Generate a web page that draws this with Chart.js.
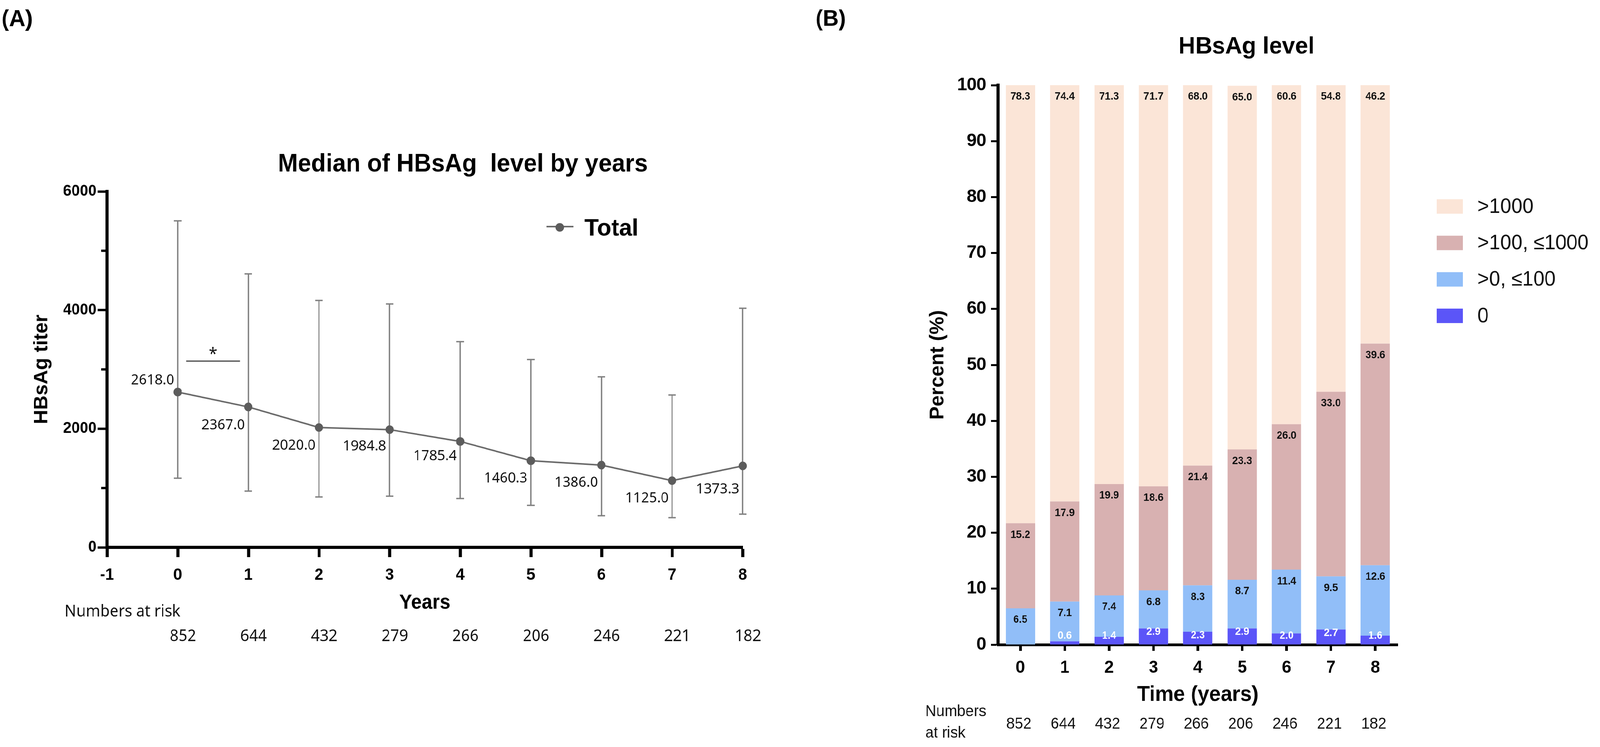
<!doctype html>
<html lang="en">
<head>
<meta charset="utf-8">
<title>HBsAg level</title>
<script src="https://cdn.jsdelivr.net/npm/chart.js@4.4.0/dist/chart.umd.min.js"></script>
<style>
  html, body { margin: 0; background: #fff; overflow: hidden; }
  #wrap { position: relative; width: 4259px; height: 1912px; transform-origin: 0 0; }
  #boxA { position: absolute; left: 0; top: 0; width: 2130px; height: 1912px; }
  #boxB { position: absolute; left: 2130px; top: 0; width: 2129px; height: 1912px; }
</style>
</head>
<body>
<div id="wrap">
  <div id="boxA"><canvas id="chartA"></canvas></div>
  <div id="boxB"><canvas id="chartB"></canvas></div>
</div>
<script>
// ---- panel A data: median HBsAg titer by year ----
var years = [0, 1, 2, 3, 4, 5, 6, 7, 8];
var medianTiter = [2618.0, 2367.0, 2020.0, 1984.8, 1785.4, 1460.3, 1386.0, 1125.0, 1373.3];
var titerLow = [1166, 948, 850, 863, 823, 708, 533, 500, 560];
var titerHigh = [5505, 4610, 4162, 4103, 3467, 3167, 2875, 2568, 4030];
var riskA = [852, 644, 432, 279, 266, 206, 246, 221, 182];

// ---- panel B data: percent of patients per HBsAg level ----
var timeLabels = ['0', '1', '2', '3', '4', '5', '6', '7', '8'];
var pctZero = [0, 0.6, 1.4, 2.9, 2.3, 2.9, 2.0, 2.7, 1.6];
var pctLow = [6.5, 7.1, 7.4, 6.8, 8.3, 8.7, 11.4, 9.5, 12.6];
var pctMid = [15.2, 17.9, 19.9, 18.6, 21.4, 23.3, 26.0, 33.0, 39.6];
var pctHigh = [78.3, 74.4, 71.3, 71.7, 68.0, 65.0, 60.6, 54.8, 46.2];
var riskB = [852, 644, 432, 279, 266, 206, 246, 221, 182];

var ARIAL = "'Liberation Sans', Arial, sans-serif";
var KFONT = "'Noto Sans', 'Liberation Sans', sans-serif";

// the figure is laid out for 4259x1912; squeeze it if the window is smaller
(function() {
  var sx = Math.min(1, (window.innerWidth || 4259) / 4259);
  var sy = Math.min(1, (window.innerHeight || 1912) / 1912);
  if (sx < 1 || sy < 1) {
    document.getElementById('wrap').style.transform = 'scale(' + sx + ',' + sy + ')';
  }
})();

Chart.defaults.font.family = ARIAL;
Chart.defaults.color = '#000';

function txt(ctx, s, x, y, font, color, align, base) {
  ctx.save();
  ctx.font = font;
  ctx.fillStyle = color || '#000';
  ctx.textAlign = align || 'center';
  ctx.textBaseline = base || 'middle';
  ctx.fillText(s, x, y);
  ctx.restore();
}

function plain(v) { return String(v); }

// label nudges (px) for the median labels, first one sits above the point
var labelShiftA = [-30, 47, 46, 43, 38, 45, 45, 45, 60];

const extrasA = {
  id: 'extrasA',
  beforeDatasetsDraw(chart) {
    const {ctx, scales: {x, y}} = chart;
    ctx.save();
    ctx.strokeStyle = '#808080';
    ctx.lineWidth = 3.5;
    years.forEach(function(yr, i) {
      const px = x.getPixelForValue(yr);
      const lo = y.getPixelForValue(titerLow[i]);
      const hi = y.getPixelForValue(titerHigh[i]);
      ctx.beginPath();
      ctx.moveTo(px, lo); ctx.lineTo(px, hi);
      ctx.moveTo(px - 10, lo); ctx.lineTo(px + 10, lo);
      ctx.moveTo(px - 10, hi); ctx.lineTo(px + 10, hi);
      ctx.stroke();
    });
    // significance bracket between year 0 and 1
    const by = y.getPixelForValue(3140);
    ctx.strokeStyle = '#444';
    ctx.lineWidth = 3;
    ctx.beginPath();
    ctx.moveTo(x.getPixelForValue(0.12), by);
    ctx.lineTo(x.getPixelForValue(0.88), by);
    ctx.stroke();
    ctx.restore();
    txt(ctx, '*', x.getPixelForValue(0.5), by - 4, '42px ' + KFONT, '#111', 'center', 'alphabetic');
  },
  afterDatasetsDraw(chart) {
    const {ctx, scales: {x, y}} = chart;
    years.forEach(function(yr, i) {
      const px = x.getPixelForValue(yr);
      const py = y.getPixelForValue(medianTiter[i]);
      txt(ctx, medianTiter[i].toFixed(1), px - 9, py + labelShiftA[i], '37px ' + KFONT, '#111', 'right');
    });
  },
  afterDraw(chart) {
    const {ctx, chartArea, scales: {x, y}} = chart;
    // minor y ticks
    ctx.save();
    ctx.strokeStyle = '#000';
    ctx.lineWidth = 6;
    [1000, 3000, 5000].forEach(function(v) {
      const py = y.getPixelForValue(v);
      ctx.beginPath();
      ctx.moveTo(chartArea.left - 16, py);
      ctx.lineTo(chartArea.left, py);
      ctx.stroke();
    });
    ctx.restore();
    txt(ctx, '(A)', 4, 50, 'bold 60px ' + ARIAL, '#000', 'left');
    txt(ctx, 'Median of HBsAg  level by years', 1232, 421, 'bold 64px ' + ARIAL);
    // legend
    const ds = chart.data.datasets[0];
    ctx.save();
    ctx.strokeStyle = ds.borderColor;
    ctx.lineWidth = 4;
    ctx.beginPath(); ctx.moveTo(1455, 580); ctx.lineTo(1526, 580); ctx.stroke();
    ctx.fillStyle = ds.pointBackgroundColor;
    ctx.beginPath(); ctx.arc(1490, 582, 11, 0, Math.PI * 2); ctx.fill();
    ctx.restore();
    txt(ctx, ds.label, 1556, 586, 'bold 62px ' + ARIAL, '#000', 'left');
    // numbers at risk
    txt(ctx, 'Numbers at risk', 172, 1566, '41px ' + KFONT, '#111', 'left');
    years.forEach(function(yr, i) {
      txt(ctx, String(riskA[i]), x.getPixelForValue(yr) + 14, 1629, '41px ' + KFONT, '#111');
    });
  }
};

new Chart(document.getElementById('chartA'), {
  type: 'line',
  data: {
    datasets: [{
      label: 'Total',
      data: years.map(function(yr, i) { return {x: yr, y: medianTiter[i]}; }),
      borderColor: '#6b6b6b',
      borderWidth: 4,
      pointRadius: 11,
      pointBackgroundColor: '#5c5c5c',
      pointBorderWidth: 0,
      tension: 0,
      clip: false
    }]
  },
  options: {
    responsive: true,
    maintainAspectRatio: false,
    animation: false,
    layout: {padding: {left: 0, right: 153, top: 490, bottom: 0}},
    plugins: {legend: {display: false}, tooltip: {enabled: false}},
    scales: {
      x: {
        type: 'linear', min: -1, max: 8,
        ticks: {stepSize: 1, padding: 21, color: '#000', font: {size: 42, weight: 'bold'}, callback: plain},
        grid: {drawOnChartArea: false, tickLength: 25, tickWidth: 8, tickColor: '#000'},
        border: {width: 8, color: '#000'},
        title: {display: true, text: 'Years', color: '#000', font: {size: 51, weight: 'bold', lineHeight: 1}, padding: {top: 0, bottom: 343}},
        afterFit: function(s) { s.height = 511; }
      },
      y: {
        min: 0, max: 6000,
        ticks: {stepSize: 2000, padding: 3, color: '#000', font: {size: 40, weight: 'bold'}, callback: plain},
        grid: {drawOnChartArea: false, tickLength: 25, tickWidth: 6, tickColor: '#000'},
        border: {width: 8, color: '#000'},
        title: {display: true, text: 'HBsAg titer', color: '#000', font: {size: 51, weight: 'bold', lineHeight: 1}, padding: {top: 86, bottom: 0}},
        afterFit: function(s) { s.width = 285; }
      }
    }
  },
  plugins: [extrasA]
});

const extrasB = {
  id: 'extrasB',
  afterDatasetsDraw(chart) {
    const {ctx} = chart;
    chart.data.datasets.forEach(function(ds, di) {
      const meta = chart.getDatasetMeta(di);
      meta.data.forEach(function(bar, i) {
        const v = ds.data[i];
        if (!v) return;
        if (di === 0) {
          const cy = Math.min(bar.y + 9, bar.base - 22);
          txt(ctx, v.toFixed(1), bar.x, cy, 'bold 27px ' + ARIAL, '#fff');
        } else {
          txt(ctx, v.toFixed(1), bar.x, bar.y + 30, 'bold 27px ' + ARIAL, '#111');
        }
      });
    });
  },
  afterDraw(chart) {
    const {ctx, scales: {x}} = chart;
    txt(ctx, '(B)', 41, 50, 'bold 58px ' + ARIAL, '#000', 'left');
    txt(ctx, 'HBsAg level', 1188, 120, 'bold 62px ' + ARIAL);
    // legend, top row is the last dataset
    const dsets = chart.data.datasets.slice().reverse();
    dsets.forEach(function(ds, k) {
      const cy = 528 + k * 93.3;
      ctx.save();
      ctx.fillStyle = ds.backgroundColor;
      ctx.fillRect(1694, cy - 18, 70, 37);
      ctx.restore();
      txt(ctx, ds.label, 1803, cy + 2, '53px ' + ARIAL, '#111', 'left');
    });
    // numbers at risk
    txt(ctx, 'Numbers', 333, 1822, '40px ' + ARIAL, '#111', 'left');
    txt(ctx, 'at risk', 333, 1877, '40px ' + ARIAL, '#111', 'left');
    timeLabels.forEach(function(t, i) {
      txt(ctx, String(riskB[i]), x.getPixelForValue(i) - 4, 1854, '40px ' + ARIAL, '#111');
    });
  }
};

new Chart(document.getElementById('chartB'), {
  type: 'bar',
  data: {
    labels: timeLabels,
    datasets: [
      {label: '0', data: pctZero, backgroundColor: '#5b55f8'},
      {label: '>0, \u2264100', data: pctLow, backgroundColor: '#91bef8'},
      {label: '>100, \u22641000', data: pctMid, backgroundColor: '#d8b1b1'},
      {label: '>1000', data: pctHigh, backgroundColor: '#fbe5d7'}
    ]
  },
  options: {
    responsive: true,
    maintainAspectRatio: false,
    animation: false,
    layout: {padding: {left: 0, right: 539, top: 218, bottom: 0}},
    datasets: {bar: {categoryPercentage: 1, barPercentage: 0.66, borderWidth: 0}},
    plugins: {legend: {display: false}, tooltip: {enabled: false}},
    scales: {
      x: {
        stacked: true,
        ticks: {padding: 17, color: '#000', font: {size: 44, weight: 'bold'}},
        grid: {drawOnChartArea: false, offset: false, tickLength: 16, tickWidth: 7, tickColor: '#000'},
        border: {width: 7, color: '#000'},
        title: {display: true, text: 'Time (years)', color: '#000', font: {size: 55, weight: 'bold', lineHeight: 1}, padding: {top: 0, bottom: 106}},
        afterFit: function(s) { s.height = 262; }
      },
      y: {
        stacked: true, min: 0, max: 100,
        ticks: {stepSize: 10, padding: 13, color: '#000', font: {size: 46, weight: 'bold'}, callback: plain},
        grid: {drawOnChartArea: false, tickLength: 19, tickWidth: 5, tickColor: '#000'},
        border: {width: 8, color: '#000'},
        title: {display: true, text: 'Percent (%)', color: '#000', font: {size: 51, weight: 'bold', lineHeight: 1}, padding: {top: 341, bottom: 0}},
        afterFit: function(s) { s.width = 527; }
      }
    }
  },
  plugins: [extrasB]
});
</script>
</body>
</html>
